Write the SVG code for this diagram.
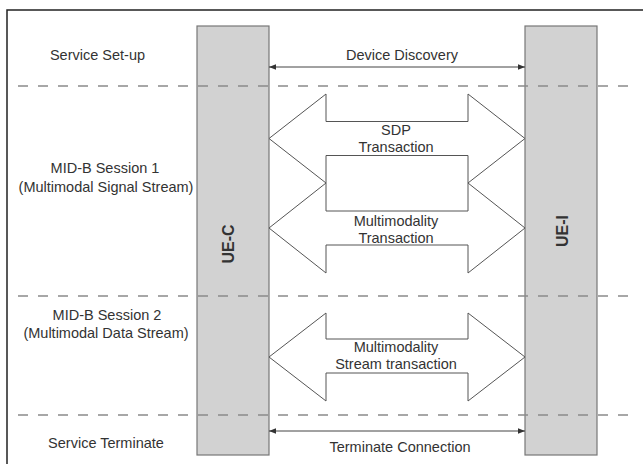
<svg xmlns="http://www.w3.org/2000/svg" width="643" height="464" viewBox="0 0 643 464">
<style>
.t{font-family:"Liberation Sans",Arial,sans-serif;font-size:14.5px;fill:#333;text-anchor:middle}
.b{font-family:"Liberation Sans",Arial,sans-serif;font-size:16px;font-weight:bold;fill:#333;text-anchor:middle}
.bar{fill:#d2d2d2;stroke:#777;stroke-width:1.2}
.blk{fill:#fff;stroke:#555;stroke-width:1}
.ln{stroke:#444;stroke-width:1;fill:none}
.dash{stroke:#8a8a8a;stroke-width:1.5;stroke-dasharray:10 10;fill:none}
</style>
<defs>
<marker id="ah" viewBox="0 0 10 10" refX="10" refY="5" markerWidth="7" markerHeight="7" markerUnits="userSpaceOnUse" orient="auto-start-reverse">
<path d="M0,1 L10,5 L0,9 Z" fill="#333"/>
</marker>
</defs>
<rect width="643" height="464" fill="#fff"/>
<path d="M7,464 L7,10 L643,10" fill="none" stroke="#222" stroke-width="1.5"/>

<g id="labels">
<text class="t" x="97.5" y="60">Service Set-up</text>
<text class="t" x="105" y="173">MID-B Session 1</text>
<text class="t" x="106" y="192">(Multimodal Signal Stream)</text>
<text class="t" x="107" y="320">MID-B Session 2</text>
<text class="t" x="106" y="338">(Multimodal Data Stream)</text>
<text class="t" x="106" y="448">Service Terminate</text>
</g>

<g id="ue-c">
<rect class="bar" x="197" y="26" width="72" height="429"/>
<text class="b" transform="translate(234,244) rotate(-90)">UE-C</text>
</g>
<g id="ue-i">
<rect class="bar" x="525" y="26" width="72" height="429"/>
<text class="b" transform="translate(568,231) rotate(-90)">UE-I</text>
</g>

<g id="separators">
<line class="dash" x1="18" y1="86" x2="632" y2="86"/>
<line class="dash" x1="18" y1="296" x2="632" y2="296"/>
<line class="dash" x1="18" y1="415" x2="632" y2="415"/>
</g>

<g id="connectors">
<line class="ln" x1="269" y1="67" x2="525" y2="67" marker-start="url(#ah)" marker-end="url(#ah)"/>
<line class="ln" x1="269" y1="431" x2="525" y2="431" marker-start="url(#ah)" marker-end="url(#ah)"/>
<g id="sdp-transaction">
<path class="blk" d="M269,138.5 L326,94 L326,121.5 L468,121.5 L468,94 L525,138.5 L468,183 L468,155.5 L326,155.5 L326,183 Z"/>
</g>
<g id="multimodality-transaction">
<path class="blk" d="M269,228 L326,183 L326,211 L468,211 L468,183 L525,228 L468,273 L468,245 L326,245 L326,273 Z"/>
</g>
<g id="stream-transaction">
<path class="blk" d="M269,357 L326,313 L326,339 L468,339 L468,313 L525,357 L468,401 L468,373 L326,373 L326,401 Z"/>
</g>
</g>

<g id="connector-labels">
<text class="t" x="402" y="60">Device Discovery</text>
<text class="t" x="400" y="452">Terminate Connection</text>
<text class="t" x="396" y="134.5">SDP</text>
<text class="t" x="396" y="151.5">Transaction</text>
<text class="t" x="396" y="226">Multimodality</text>
<text class="t" x="396" y="243">Transaction</text>
<text class="t" x="396" y="352">Multimodality</text>
<text class="t" x="396" y="369">Stream transaction</text>
</g>
</svg>
